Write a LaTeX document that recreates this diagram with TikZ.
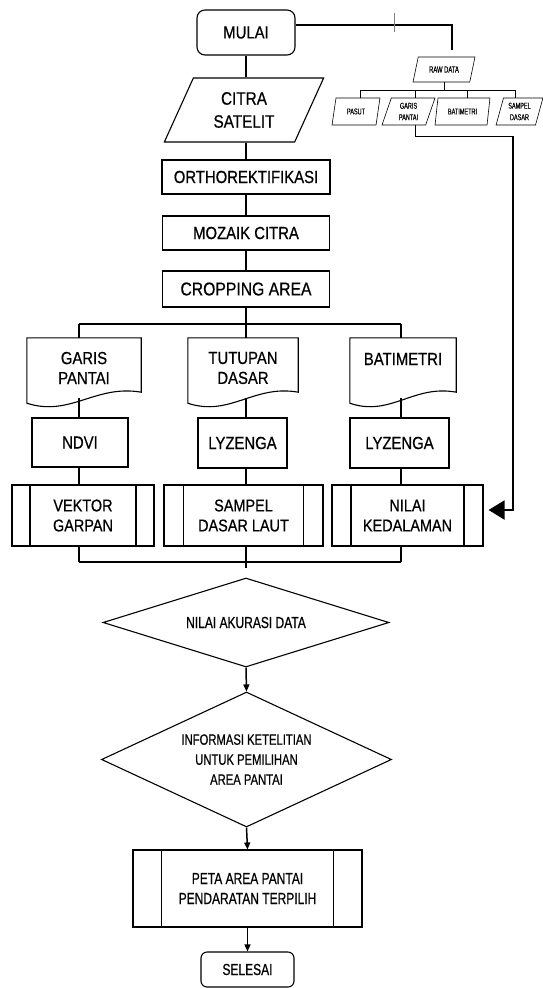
\documentclass[tikz,border=0pt]{standalone}
\usepackage{fontspec}
\setmainfont{Liberation Sans}[FakeStretch=0.85,FakeBold=0.6]
\newfontfamily\narrowf{Liberation Sans}[FakeStretch=0.75,FakeBold=0.6]
\newfontfamily\tinyf{Liberation Sans}[FakeStretch=0.65,FakeBold=0.4]
\usetikzlibrary{shapes.geometric,arrows.meta,calc}
\newcommand{\fsz}[2]{\fontsize{#1}{#2}\selectfont}
\begin{document}
\begin{tikzpicture}[x=1pt,y=-1pt,
  box/.style={rectangle,draw,line width=1.1pt,inner sep=0pt,align=center},
  rbox/.style={box,rounded corners=8pt},
  para/.style={trapezium,draw,line width=1.1pt,inner sep=0pt,align=center,trapezium stretches=true},
  smallpara/.style={para,line width=0.6pt,trapezium left angle=73.5,trapezium right angle=106.5,minimum height=27pt,font=\tinyf\fsz{8.5}{11.5}},
  dia/.style={diamond,draw,line width=1.1pt,inner sep=0pt,align=center},
  docnode/.style={rectangle,inner sep=0pt,align=center,minimum height=60pt,font=\fsz{17.5}{20}},
  predef/.style={box,path picture={\draw[line width=1.1pt] ([xshift=#1]path picture bounding box.north west) -- ([xshift=#1]path picture bounding box.south west) ([xshift=-#1]path picture bounding box.north east) -- ([xshift=-#1]path picture bounding box.south east);}},
  conn/.style={line width=1.5pt},
  bus/.style={line width=2.6pt},
  thinline/.style={line width=0.8pt},
  arr/.style={conn,-{Triangle[length=7pt,width=6pt]}},
]
\useasboundingbox (0,0) rectangle (543,988);

% main column
\node[rbox,minimum width=98pt,minimum height=45pt,font=\fsz{17.5}{20}] (mulai) at (246,32.5) {MULAI};
\node[para,trapezium left angle=64,trapezium right angle=116,minimum width=160pt,minimum height=64pt,font=\fsz{18}{23}] (citra) at (244,110) {CITRA\\SATELIT};
\node[box,minimum width=168pt,minimum height=34pt,font=\fsz{17.5}{20}] (ortho) at (246,177) {ORTHOREKTIFIKASI};
\node[box,minimum width=167pt,minimum height=34pt,font=\fsz{17.5}{20}] (mozaik) at (246,233) {MOZAIK CITRA};
\node[box,minimum width=167pt,minimum height=36pt,font=\fsz{18.5}{20}] (crop) at (246,289) {CROPPING AREA};

% documents
\node[docnode,minimum width=114pt] (dgp) at (84,368) {GARIS\\PANTAI};
\node[docnode,minimum width=110pt] (dtd) at (243,368) {TUTUPAN\\DASAR};
\node[docnode,minimum width=106pt,text depth=18pt] (dbt) at (403,368) {BATIMETRI};
\foreach \n in {dgp,dtd,dbt}{
  \draw[line width=1.1pt] (\n.north west) -- (\n.north east) -- ([yshift=6pt]\n.south east)
    .. controls ($(\n.south east)!0.4!(\n.south west)+(0pt,14pt)$) and ($(\n.south east)!0.62!(\n.south west)+(0pt,-19pt)$) .. ([yshift=-5pt]\n.south west) -- cycle;
}

% processes
\node[box,minimum width=96pt,minimum height=49pt,font=\fsz{17.5}{20}] (ndvi) at (80,442.5) {NDVI};
\node[box,minimum width=89pt,minimum height=50pt,font=\fsz{17.5}{20}] (lyz1) at (242.5,443) {LYZENGA};
\node[box,minimum width=99pt,minimum height=50pt,font=\fsz{17.5}{20}] (lyz2) at (399.5,443) {LYZENGA};

\node[predef=18pt,minimum width=142pt,minimum height=61pt,font=\fsz{17}{20}] (vek) at (83,515.5) {VEKTOR\\GARPAN};
\node[predef=19.5pt,minimum width=159pt,minimum height=61pt,font=\fsz{17}{20}] (samp) at (243.5,515.5) {SAMPEL\\DASAR LAUT};
\node[predef=19pt,minimum width=151pt,minimum height=61pt,font=\fsz{17}{20}] (nil) at (407.5,515.5) {NILAI\\KEDALAMAN};

% decisions and end
\node[dia,minimum width=286pt,minimum height=89pt,aspect=3.2,font=\narrowf\fsz{16}{20}] (d1) at (246,622.5) {NILAI AKURASI DATA};
\node[dia,minimum width=290pt,minimum height=135pt,aspect=2.15,font=\narrowf\fsz{15}{20}] (d2) at (246.5,759.5) {INFORMASI KETELITIAN\\UNTUK PEMILIHAN\\AREA PANTAI};
\node[predef=28.5pt,minimum width=229pt,minimum height=77pt,font=\narrowf\fsz{16}{20}] (peta) at (247.5,888.5) {PETA AREA PANTAI\\PENDARATAN TERPILIH};
\node[rbox,rounded corners=6pt,minimum width=93pt,minimum height=35pt,font=\narrowf\fsz{16}{20}] (sel) at (247.5,969.5) {SELESAI};

% raw data branch
\node[para,line width=0.6pt,trapezium left angle=64,trapezium right angle=116,minimum width=62pt,minimum height=25pt,font=\tinyf\fsz{9}{10}] (raw) at (444,69.5) {RAW DATA};
\node[smallpara,minimum width=48pt] (pas) at (356,111.5) {PASUT};
\node[smallpara,minimum width=53pt] (gps) at (408.5,111.5) {GARIS\\PANTAI};
\node[smallpara,minimum width=55pt] (bts) at (462.5,111.5) {BATIMETRI};
\node[smallpara,minimum width=47pt] (sds) at (519.5,111.5) {SAMPEL\\DASAR};

% main connectors
\draw[conn] (mulai.south) -- (mulai.south |- citra.north);
\draw[conn] (citra.south -| ortho.north) -- (ortho.north);
\draw[conn] (ortho.south) -- (mozaik.north);
\draw[conn] (mozaik.south) -- (crop.north);

\coordinate (b1l) at (79,324);
\coordinate (b1r) at (401,324);
\draw[conn] (crop.south) -- (crop.south |- b1l);
\draw[bus] (b1l) -- (b1r);
\draw[conn] (b1l) -- (b1l |- dgp.north);
\draw[conn] (crop.south |- b1l) -- (crop.south |- dtd.north);
\draw[conn] (b1r) -- (b1r |- dbt.north);

\draw[conn] (dgp.south -| b1l) -- (ndvi.north -| b1l);
\draw[conn] (dtd.south -| crop.south) -- (lyz1.north -| crop.south);
\draw[conn] (dbt.south -| b1r) -- (lyz2.north -| b1r);
\draw[conn] (ndvi.south -| b1l) -- (vek.north -| b1l);
\draw[conn] (lyz1.south -| crop.south) -- (samp.north -| crop.south);
\draw[conn] (lyz2.south -| b1r) -- (nil.north -| b1r);

\coordinate (b2l) at (79,562);
\coordinate (b2r) at (401,562);
\coordinate (b2c) at (246,568);
\draw[conn] (vek.south -| b2l) -- (b2l);
\draw[conn] (nil.south -| b2r) -- (b2r);
\draw[conn] (samp.south -| b2c) -- (b2c);
\draw[bus] (b2l) -- (b2r);

\draw[arr] (d1.south) -- (d2.north);
\draw[arr] (d2.south) -- (peta.north);
\draw[arr] (peta.south) -- (sel.north);

% raw branch connectors
\coordinate (rawin) at (452,50);
\draw[line width=2pt] ([yshift=7.5pt]mulai.east) -| (rawin);
\draw[gray,line width=0.8pt] (394,13) -- (394,32);
\coordinate (q1) at (360,90);
\coordinate (q2) at (415,90);
\coordinate (q3) at (467,90);
\coordinate (q4) at (515,90);
\draw[thinline] (raw.south) -- (raw.south |- q1);
\draw[thinline] (q1) -- (q4);
\draw[thinline] (q1) -- (q1 |- pas.north);
\draw[thinline] (q2) -- (q2 |- gps.north);
\draw[thinline] (q3) -- (q3 |- bts.north);
\draw[thinline] (q4) -- (q4 |- sds.north);
\coordinate (rk) at (513,136);
\draw[thinline] (gps.south -| q2) |- (rk);
\draw[line width=2pt,-{Triangle[length=16pt,width=19pt]}] (rk) |- ([xshift=5pt,yshift=5.5pt]nil.east);
\end{tikzpicture}
\end{document}
